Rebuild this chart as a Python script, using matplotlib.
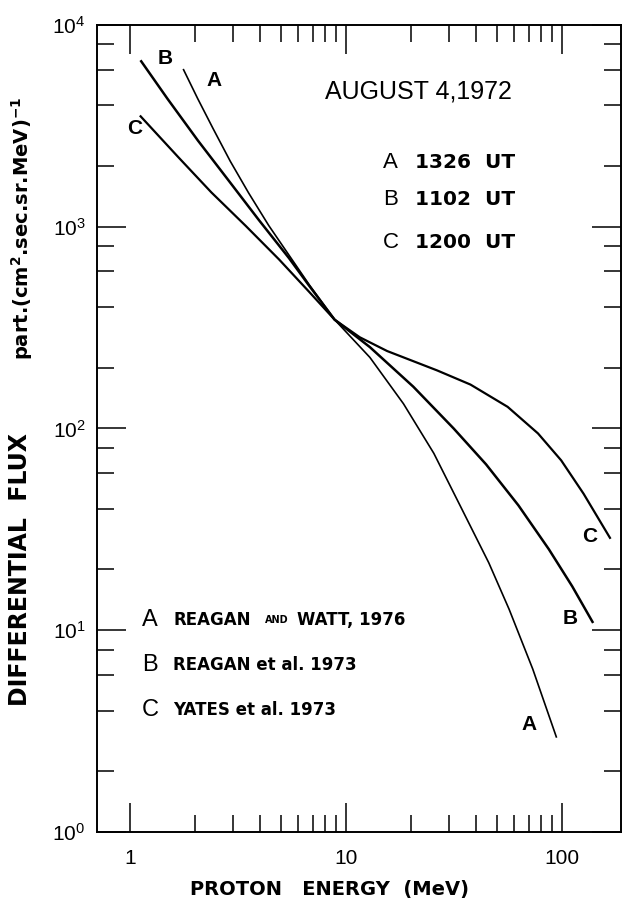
import matplotlib
matplotlib.use("Agg")
import matplotlib.pyplot as plt
from matplotlib.ticker import FixedLocator, FixedFormatter, NullFormatter

plt.rcParams['font.family'] = ['Liberation Sans', 'DejaVu Sans']
plt.rcParams['mathtext.default'] = 'regular'

# A : REAGAN and WATT 1976, 1326 UT
energy_a = [1.77, 2.057, 2.42, 2.91, 3.54, 4.39, 5.45, 6.77, 8.86,
            12.9, 18.45, 25.5, 34.2, 45.8, 56.9, 73.2, 94.1]
flux_a = [6000, 4318, 3076, 2114, 1471, 1013, 722, 514, 346,
          225, 132.6, 75.3, 40.3, 21.6, 12.7, 6.42, 2.96]

# B : REAGAN et al. 1973, 1102 UT
energy_b = [1.127, 1.493, 2.064, 2.853, 3.94, 5.45, 6.77, 8.86,
            12.9, 20.5, 31.5, 44.5, 62.8, 86.9, 111.5, 138.4]
flux_b = [6605, 4299, 2671, 1701, 1083, 698, 508, 346,
          253, 161, 100, 66.4, 41.6, 25.2, 16.5, 11.0]

# C : YATES et al. 1973, 1200 UT
energy_c = [1.12, 1.669, 2.381, 3.435, 4.90, 6.77, 8.86, 11.59, 15.5,
            26.4, 37.7, 56.0, 77.4, 99.1, 125.8, 166.7]
flux_c = [3524, 2218, 1479, 1009, 688, 474, 346, 283, 242,
          194, 165, 128, 94.5, 69.5, 47.5, 28.7]

x_major = [1, 10, 100]
x_labels = ['1', '10', '100']
y_major = [1, 10, 100, 1000, 10000]
y_labels = ['10$^{0}$', '10$^{1}$', '10$^{2}$', '10$^{3}$', '10$^{4}$']
x_minor = [m * d for d in (1, 10) for m in range(2, 10)]
y_minor = [m * d for d in (1, 10, 100, 1000) for m in (2, 4, 6, 8)]

fig = plt.figure(figsize=(6.26, 9.07), dpi=100)
ax = fig.add_axes([0.1542, 0.0827, 0.8374, 0.8898])
ax.set_xscale('log')
ax.set_yscale('log')
ax.set_xlim(0.7, 187)
ax.set_ylim(1, 1e4)

ax.plot(energy_a, flux_a, color='black', lw=1.2)
ax.plot(energy_b, flux_b, color='black', lw=1.8)
ax.plot(energy_c, flux_c, color='black', lw=1.6)

ax.xaxis.set_major_locator(FixedLocator(x_major))
ax.xaxis.set_major_formatter(FixedFormatter(x_labels))
ax.xaxis.set_minor_locator(FixedLocator(x_minor))
ax.xaxis.set_minor_formatter(NullFormatter())
ax.yaxis.set_major_locator(FixedLocator(y_major))
ax.yaxis.set_major_formatter(FixedFormatter(y_labels))
ax.yaxis.set_minor_locator(FixedLocator(y_minor))
ax.yaxis.set_minor_formatter(NullFormatter())

ax.tick_params(which='both', direction='in', top=True, right=True,
               width=1.1, labelsize=15)
ax.tick_params(which='major', length=21)
ax.tick_params(which='minor', length=12)
ax.tick_params(axis='x', pad=12)
ax.tick_params(axis='y', pad=8)
for s in ax.spines.values():
    s.set_linewidth(1.4)

# curve labels
lab = dict(transform=ax.transAxes, fontsize=15, fontweight='bold',
           ha='center', va='center')
ax.text(0.131, 0.959, 'B', **lab)
ax.text(0.224, 0.931, 'A', **lab)
ax.text(0.072, 0.872, 'C', **lab)
ax.text(0.941, 0.366, 'C', **lab)
ax.text(0.903, 0.265, 'B', **lab)
ax.text(0.825, 0.133, 'A', **lab)

ax.text(0.615, 0.917, 'AUGUST 4,1972', transform=ax.transAxes,
        fontsize=18, ha='center', va='center')

times = ['1326  UT', '1102  UT', '1200  UT']
time_y = [0.829, 0.784, 0.731]
for letter, t, yy in zip('ABC', times, time_y):
    ax.text(0.5465, yy, letter, transform=ax.transAxes, fontsize=16,
            ha='left', va='center')
    ax.text(0.6076, yy, t, transform=ax.transAxes, fontsize=14.5,
            fontweight='bold', family='DejaVu Sans', ha='left', va='center')

# references
ref_y = [0.2627, 0.207, 0.151]
for letter, yy in zip('ABC', ref_y):
    ax.text(0.087, yy, letter, transform=ax.transAxes, fontsize=17,
            ha='left', va='center')
ref = dict(transform=ax.transAxes, fontsize=12, fontweight='bold',
           family='DejaVu Sans', ha='left', va='center')
ax.text(0.146, ref_y[0], 'REAGAN', **ref)
ax.text(0.322, ref_y[0], 'AND', transform=ax.transAxes, fontsize=7,
        fontweight='bold', family='DejaVu Sans', ha='left', va='center')
ax.text(0.382, ref_y[0], 'WATT, 1976', **ref)
ax.text(0.146, ref_y[1], 'REAGAN et al. 1973', **ref)
ax.text(0.146, ref_y[2], 'YATES et al. 1973', **ref)

fig.text(329 / 626, 1 - 890 / 907, 'PROTON   ENERGY  (MeV)', fontsize=14,
         fontweight='bold', family='DejaVu Sans', ha='center', va='center')
fig.text(20 / 626, 1 - 569 / 907, 'DIFFERENTIAL  FLUX', fontsize=17,
         fontweight='bold', family='DejaVu Sans', rotation=90,
         ha='center', va='center')
fig.text(22 / 626, 1 - 228 / 907, r'part.(cm$^{2}$.sec.sr.MeV)$^{-1}$',
         fontsize=14, fontweight='bold', family='DejaVu Sans', rotation=90,
         ha='center', va='center')

fig.savefig('out.png', dpi=100)
